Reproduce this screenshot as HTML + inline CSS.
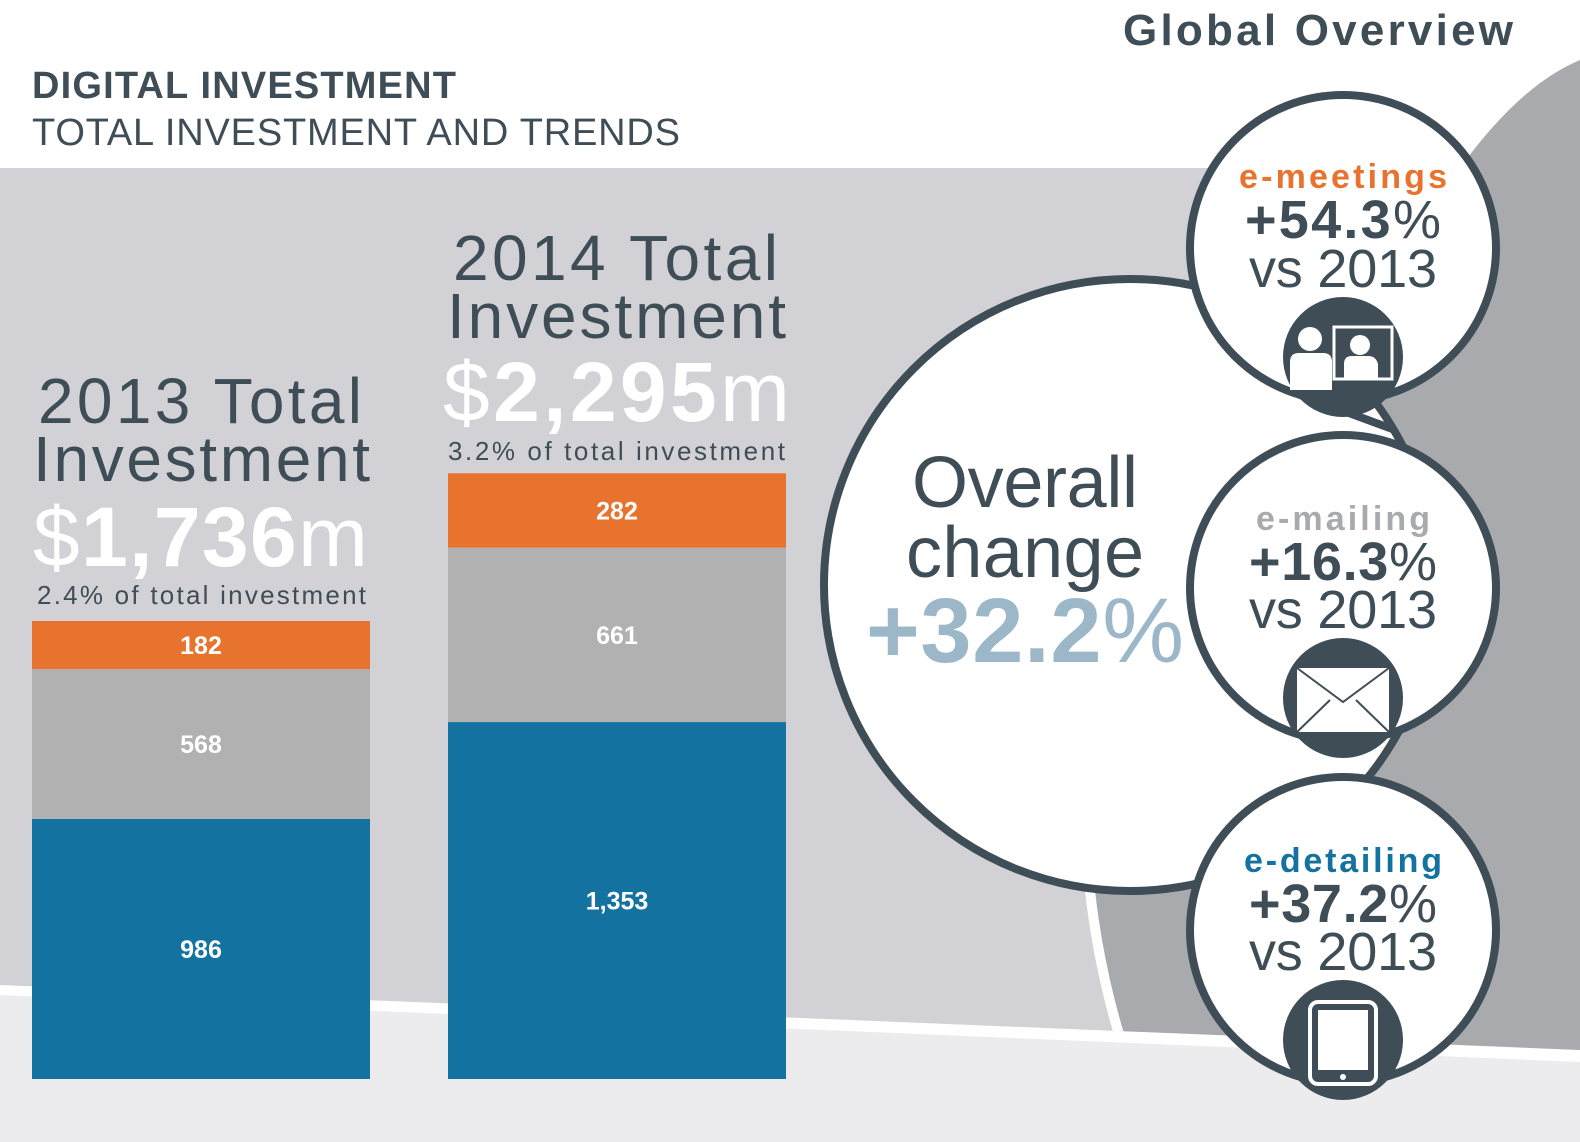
<!DOCTYPE html>
<html><head><meta charset="utf-8"><style>
html,body{margin:0;padding:0;background:#fff;width:1580px;height:1142px;overflow:hidden}
svg{display:block}
text{font-family:"Liberation Sans",sans-serif}
</style></head><body>
<svg id="c" width="1580" height="1142" viewBox="0 0 1580 1142" xmlns="http://www.w3.org/2000/svg">
<rect x="0" y="0" width="1580" height="1142" fill="#fff"/>
<rect x="0" y="168" width="1580" height="974" fill="#d2d2d6"/>
<circle cx="1910" cy="800" r="830" fill="#fff"/>
<circle cx="1910" cy="800" r="820" fill="#a9aaae"/>
<polygon points="0,985 1580,1050 1580,1142 0,1142" fill="#fff"/>
<polygon points="0,995 1580,1062 1580,1142 0,1142" fill="#ececef"/>
<rect x="0" y="0" width="1580" height="168" fill="#fff"/>
<path d="M1460,168 Q1520,85 1580,60 L1580,168 Z" fill="#a9aaae"/>

<text x="1513" y="45" text-anchor="end" font-size="44" font-weight="bold" fill="#3f4d57" textLength="390">Global Overview</text>
<text x="32" y="98" font-size="38" font-weight="bold" fill="#3f4d57" textLength="424">DIGITAL INVESTMENT</text>
<text x="32" y="145" font-size="38" fill="#3f4d57" textLength="648">TOTAL INVESTMENT AND TRENDS</text>

<g id="bars"></g>

<g>
<text x="38" y="423" font-size="64" fill="#3f4d57" textLength="324">2013  Total</text>
<text x="33" y="481" font-size="64" fill="#3f4d57" textLength="337">Investment</text>
<text x="33" y="566" font-size="84" fill="#fff" textLength="335"><tspan>$</tspan><tspan font-weight="bold">1,736</tspan><tspan>m</tspan></text>
<text x="37" y="604" font-size="26" fill="#3f4d57" textLength="329">2.4% of total investment</text>
</g>
<g>
<text x="453" y="280" font-size="64" fill="#3f4d57" textLength="325">2014  Total</text>
<text x="447" y="338" font-size="64" fill="#3f4d57" textLength="339">Investment</text>
<text x="443" y="421" font-size="84" fill="#fff" textLength="347"><tspan>$</tspan><tspan font-weight="bold">2,295</tspan><tspan>m</tspan></text>
<text x="448" y="460" font-size="26" fill="#3f4d57" textLength="337">3.2% of total investment</text>
</g>

<g>
<circle cx="1130" cy="585" r="306" fill="#fff" stroke="#3f4d57" stroke-width="8"/>
<text x="1025" y="507" text-anchor="middle" font-size="72" fill="#3f4d57" textLength="226">Overall</text>
<text x="1025" y="577" text-anchor="middle" font-size="72" fill="#3f4d57" textLength="238">change</text>
<text x="1025" y="662" text-anchor="middle" font-size="92" fill="#9cb8c8" textLength="318"><tspan font-weight="bold">+32.2</tspan><tspan>%</tspan></text>
</g>

<g>
<path d="M1300,395 L1395,430" stroke="#3f4d57" stroke-width="8"/>
<circle cx="1343" cy="248" r="153" fill="#fff" stroke="#3f4d57" stroke-width="8"/>
<text x="1343" y="188" text-anchor="middle" font-size="34" font-weight="bold" fill="#e8732e" textLength="208">e-meetings</text>
<text x="1343" y="238" text-anchor="middle" font-size="54" fill="#3f4d57" textLength="196"><tspan font-weight="bold">+54.3</tspan><tspan>%</tspan></text>
<text x="1343" y="287" text-anchor="middle" font-size="54" fill="#3f4d57" textLength="188">vs 2013</text>
<circle cx="1343" cy="357" r="60" fill="#3f4d57"/>
<rect x="1334" y="327" width="58" height="52" fill="none" stroke="#fff" stroke-width="3"/>
<circle cx="1360" cy="345" r="10" fill="#fff"/>
<path d="M1344,378 v-14 q0,-8 8,-8 h16 q8,0 10,8 v14 z" fill="#fff"/>
<circle cx="1310" cy="339" r="12" fill="#fff"/>
<path d="M1290,390 v-28 q0,-9 9,-9 h24 q9,0 9,9 v28 z" fill="#fff"/>
</g>

<g>
<circle cx="1343" cy="588" r="153" fill="#fff" stroke="#3f4d57" stroke-width="8"/>
<text x="1343" y="530" text-anchor="middle" font-size="34" font-weight="bold" fill="#a9aaae" textLength="174">e-mailing</text>
<text x="1343" y="580" text-anchor="middle" font-size="54" fill="#3f4d57" textLength="188"><tspan font-weight="bold">+16.3</tspan><tspan>%</tspan></text>
<text x="1343" y="628" text-anchor="middle" font-size="54" fill="#3f4d57" textLength="188">vs 2013</text>
<circle cx="1343" cy="698" r="60" fill="#3f4d57"/>
<rect x="1297" y="668" width="92" height="64" fill="#fff"/>
<path d="M1297,668 L1343,702 L1389,668 M1297,732 L1330,700 M1389,732 L1356,700" fill="none" stroke="#3f4d57" stroke-width="2"/>
</g>

<g>
<circle cx="1343" cy="930" r="153" fill="#fff" stroke="#3f4d57" stroke-width="8"/>
<text x="1343" y="872" text-anchor="middle" font-size="34" font-weight="bold" fill="#1472a0" textLength="198">e-detailing</text>
<text x="1343" y="922" text-anchor="middle" font-size="54" fill="#3f4d57" textLength="188"><tspan font-weight="bold">+37.2</tspan><tspan>%</tspan></text>
<text x="1343" y="970" text-anchor="middle" font-size="54" fill="#3f4d57" textLength="188">vs 2013</text>
<circle cx="1343" cy="1040" r="60" fill="#3f4d57"/>
<rect x="1310" y="1002" width="66" height="82" rx="8" fill="none" stroke="#fff" stroke-width="4"/>
<rect x="1318" y="1010" width="50" height="60" fill="#fff"/>
<circle cx="1343" cy="1077" r="3" fill="#fff"/>
</g>
</svg>
<script>
const years = ["2013", "2014"];
const eDetailing = [986, 1353];
const eMailing = [568, 661];
const eMeetings = [182, 282];
const barLefts = [32, 448];
const barW = 338;
const baseY = 1079;
const pxPerUnit = 458 / 1736;
function y(v){ return baseY - v * pxPerUnit; }
const g = document.getElementById('bars');
const NS = 'http://www.w3.org/2000/svg';
const series = [
  {vals: eDetailing, color: '#1472a0', name: 'e-detailing'},
  {vals: eMailing, color: '#b2b1b2', name: 'e-mailing'},
  {vals: eMeetings, color: '#e8732e', name: 'e-meetings'}
];
years.forEach((yr, i) => {
  let cum = 0;
  series.forEach(s => {
    const v = s.vals[i];
    const top = y(cum + v), bot = y(cum);
    const r = document.createElementNS(NS, 'rect');
    r.setAttribute('x', barLefts[i]);
    r.setAttribute('y', top);
    r.setAttribute('width', barW);
    r.setAttribute('height', bot - top);
    r.setAttribute('fill', s.color);
    
    
    g.appendChild(r);
    const t = document.createElementNS(NS, 'text');
    t.setAttribute('x', barLefts[i] + barW / 2);
    t.setAttribute('y', (top + bot) / 2 + 9);
    t.setAttribute('text-anchor', 'middle');
    t.setAttribute('font-size', '25');
    t.setAttribute('font-weight', 'bold');
    t.setAttribute('fill', '#fff');
    t.textContent = v.toLocaleString('en-US');
    
    
    g.appendChild(t);
    cum += v;
  });
});
</script>
</body></html>
